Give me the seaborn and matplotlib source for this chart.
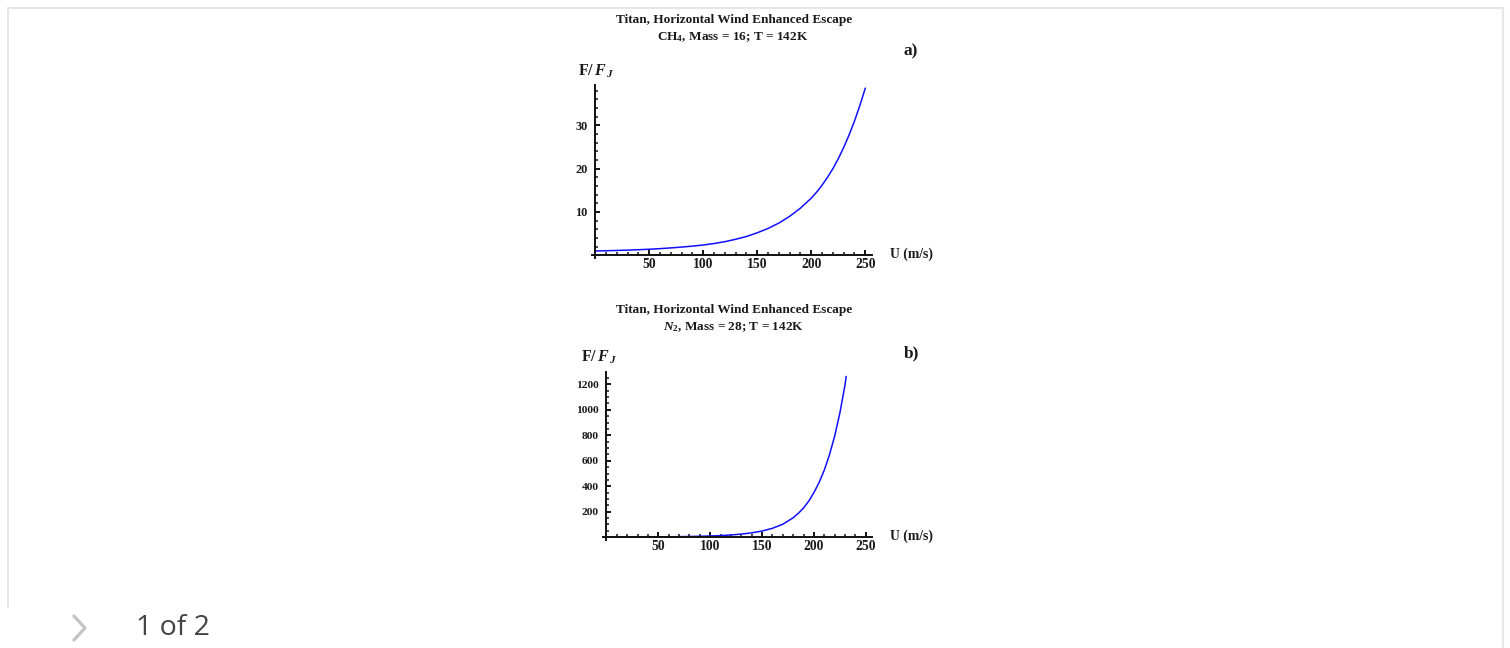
import matplotlib
matplotlib.use("Agg")
import matplotlib.pyplot as plt
from matplotlib.lines import Line2D
from matplotlib.ticker import FixedLocator, MultipleLocator
import seaborn as sns
import pandas as pd

# panel a) CH4
u_ch4 = [0, 10, 20, 30, 40, 50, 60, 70, 80, 90, 100, 110, 120, 130, 140, 150,
         160, 170, 180, 190, 200, 205, 210, 215, 220, 225, 230, 235, 240, 245, 250]
f_ch4 = [1.00, 1.05, 1.12, 1.20, 1.29, 1.40, 1.54, 1.71, 1.90, 2.12, 2.38, 2.72,
         3.15, 3.70, 4.35, 5.20, 6.20, 7.45, 9.00, 10.9, 13.2, 14.6, 16.2, 18.0,
         20.0, 22.3, 24.9, 27.8, 31.0, 34.6, 38.6]

# panel b) N2
u_n2 = [0, 10, 20, 30, 40, 50, 60, 70, 80, 90, 100, 110, 120, 130, 140, 150,
        160, 170, 180, 185, 190, 195, 200, 205, 210, 215, 220, 225, 230, 231]
f_n2 = [1.0, 1.14, 1.35, 1.65, 2.05, 2.6, 3.3, 4.3, 5.5, 7.2, 9.5, 12.8, 17.5,
        24.3, 34, 48.5, 70, 102, 153, 188, 230, 284, 351, 431, 528, 649, 796,
        977, 1200, 1262]

x_ticks = [50, 100, 150, 200, 250]
y_ticks_a = [10, 20, 30]
y_ticks_b = [200, 400, 600, 800, 1000, 1200]

panels = [
    dict(u=u_ch4, f=f_ch4, yticks=y_ticks_a, ylim=(-0.6, 39.3), yminor=2, ysize=8.8,
         rect=[0.39209, 0.60201, 0.18524, 0.26667],
         t1="Titan, Horizontal Wind Enhanced Escape",
         t2=r"CH$_\mathrm{4}$, Mass = 16; T = 142K", tag="a)",
         ty=(20, 37, 51), ylab=(596, 71), xlab=(911, 254)),
    dict(u=u_n2, f=f_n2, yticks=y_ticks_b, ylim=(-20, 1294), yminor=50, ysize=8.2,
         rect=[0.39954, 0.16705, 0.17801, 0.25833],
         t1="Titan, Horizontal Wind Enhanced Escape",
         t2=r"$N_\mathrm{2}$, Mass = 28; T = 142K", tag="b)",
         ty=(310, 327, 353), ylab=(599, 357), xlab=(912, 536)),
]

sns.set_style("white")
plt.rcParams["font.family"] = ["Liberation Serif", "DejaVu Serif"]
plt.rcParams["font.weight"] = "bold"
plt.rcParams["mathtext.fontset"] = "custom"
plt.rcParams["mathtext.rm"] = "Liberation Serif:bold"
plt.rcParams["mathtext.it"] = "Liberation Serif:italic:bold"

W, H = 1510, 648
fig = plt.figure(figsize=(15.1, 6.48), dpi=100)
txt = "#1a1a1a"

for p in panels:
    ax = fig.add_axes(p["rect"])
    df = pd.DataFrame({"U": p["u"], "F": p["f"]})
    sns.lineplot(data=df, x="U", y="F", ax=ax, color="#1010ff", lw=1.1, sort=False)
    ax.set_xlim(-3, 256)
    ax.set_ylim(*p["ylim"])
    ax.set_xlabel("")
    ax.set_ylabel("")
    for s in ["top", "right"]:
        ax.spines[s].set_visible(False)
    ax.spines["left"].set_position(("data", 0))
    ax.spines["bottom"].set_position(("data", 0))
    for s in ["left", "bottom"]:
        ax.spines[s].set_linewidth(1.4)
        ax.spines[s].set_color("#111111")
    ax.xaxis.set_major_locator(FixedLocator(x_ticks))
    ax.xaxis.set_minor_locator(MultipleLocator(10))
    ax.yaxis.set_major_locator(FixedLocator(p["yticks"]))
    ax.yaxis.set_minor_locator(MultipleLocator(p["yminor"]))
    ax.tick_params(which="both", bottom=True, left=True, top=False, right=False)
    ax.tick_params(which="major", direction="in", length=3.8, width=1.4,
                   color="#111111", labelcolor=txt)
    ax.tick_params(which="minor", direction="in", length=2.2, width=1.1,
                   color="#111111")
    ax.tick_params(axis="x", which="major", pad=2.2, labelsize=9.8)
    ax.tick_params(axis="y", which="major", pad=5.5, labelsize=p["ysize"])
    for lab in ax.get_xticklabels() + ax.get_yticklabels():
        lab.set_fontweight("bold")
    ax.set_facecolor("none")

    y1, y2, y3 = p["ty"]
    fig.text(734 / W, 1 - y1 / H, p["t1"], ha="center", va="center",
             fontsize=9.5, fontweight="bold", color=txt)
    fig.text(733 / W, 1 - y2 / H, p["t2"], ha="center", va="center",
             fontsize=9.5, fontweight="bold", color=txt)
    fig.text(911 / W, 1 - y3 / H, p["tag"], ha="center", va="center",
             fontsize=12.5, fontweight="bold", color=txt)
    fig.text(p["ylab"][0] / W, 1 - p["ylab"][1] / H, r"F/$\,F_{\,J}$", ha="center",
             va="center", fontsize=11.5, fontweight="bold", color=txt)
    fig.text(p["xlab"][0] / W, 1 - p["xlab"][1] / H, "U (m/s)", ha="center",
             va="center", fontsize=9.8, fontweight="bold", color=txt)

# page frame around the figure
frame = "#e6e6e6"
fig.add_artist(Line2D([8 / W, 1503 / W], [1 - 8 / H, 1 - 8 / H],
                      transform=fig.transFigure, color=frame, lw=1.5))
fig.add_artist(Line2D([8 / W, 8 / W], [1 - 8 / H, 1 - 607 / H],
                      transform=fig.transFigure, color=frame, lw=1.5))
fig.add_artist(Line2D([1503 / W, 1503 / W], [1 - 8 / H, 0],
                      transform=fig.transFigure, color=frame, lw=1.5))

# pager
fig.add_artist(Line2D([74 / W, 85 / W, 74 / W],
                      [1 - 616 / H, 1 - 628 / H, 1 - 640 / H],
                      transform=fig.transFigure, color="#c4c4c4", lw=2.3))
fig.text(136 / W, 1 - 628 / H, "1 of 2", ha="left", va="center",
         fontsize=20.5, family=["Open Sans", "DejaVu Sans"], fontweight="normal",
         color="#444444")

fig.savefig("out.png", dpi=100)
